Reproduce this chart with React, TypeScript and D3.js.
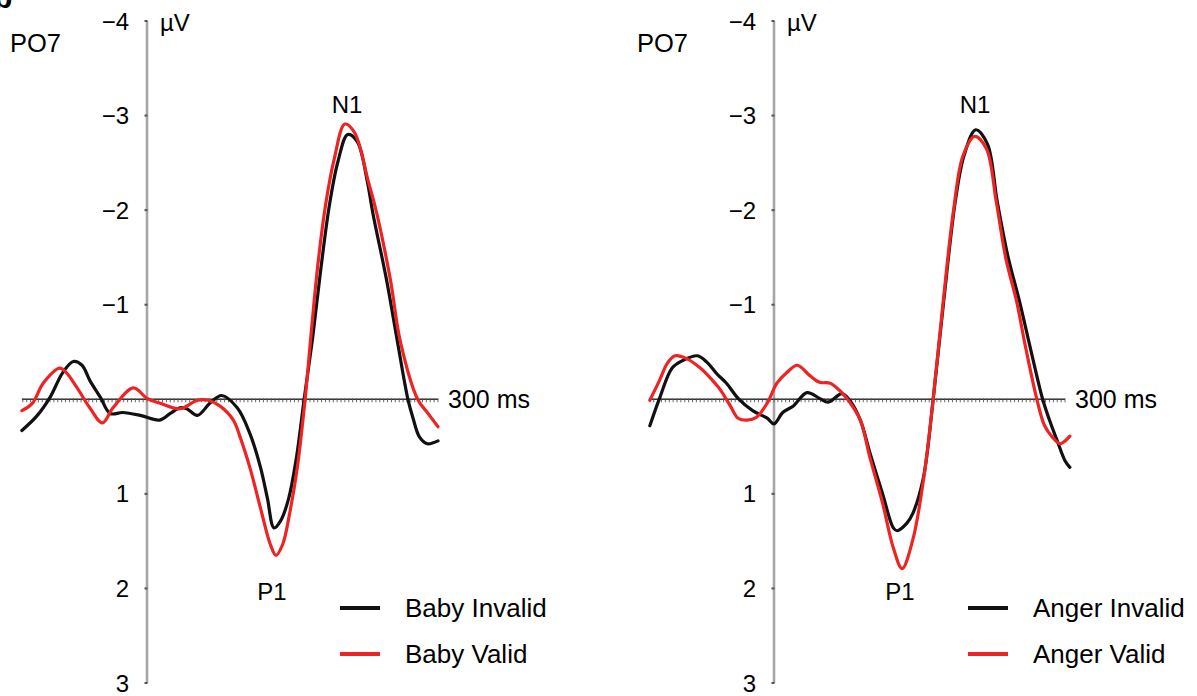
import React from "react";
import * as d3 from "d3";

// ---------- data (time in ms, amplitude in µV) ----------
const yTicks = [-4, -3, -2, -1, 1, 2, 3];
const babyInvalidT = [-129, -113, -100, -87, -76, -67, -59, -48, -38, -25, -7, 13, 24, 34, 41, 52, 65, 77, 93, 106, 117, 124, 131, 138, 146, 154, 162, 171, 179, 188, 197, 207, 217, 227, 233, 247, 258, 269, 274, 281, 289, 300];
const babyInvalidV = [0.33, 0.17, -0.02, -0.28, -0.4, -0.36, -0.2, -0.02, 0.15, 0.14, 0.17, 0.22, 0.15, 0.09, 0.1, 0.17, 0.04, -0.04, 0.09, 0.36, 0.72, 1.04, 1.36, 1.28, 1.05, 0.62, 0, -0.67, -1.36, -2.05, -2.52, -2.8, -2.72, -2.31, -1.96, -1.26, -0.62, 0, 0.19, 0.4, 0.47, 0.44];
const babyValidT = [-129, -118, -107, -90, -83, -72, -59, -46, -35, -14, 0, 13, 34, 52, 63, 75, 89, 96, 106, 117, 127, 133, 140, 147, 155, 163, 169, 176, 184, 193, 204, 214, 228, 237, 251, 261, 279, 289, 300];
const babyValidV = [0.12, 0.04, -0.17, -0.33, -0.28, -0.12, 0.09, 0.25, 0.09, -0.12, -0.01, 0.04, 0.1, 0.01, 0.01, 0.07, 0.22, 0.4, 0.72, 1.15, 1.53, 1.65, 1.53, 1.21, 0.72, 0, -0.67, -1.41, -2.05, -2.54, -2.91, -2.82, -2.31, -1.96, -1.26, -0.62, 0, 0.14, 0.29];
const angerInvalidT = [-128, -118, -105, -94, -79, -69, -59, -49, -37, -22, -7, 0, 9, 20, 34, 47, 56, 70, 78, 89, 99, 112, 123, 127, 137, 143, 154, 164, 175, 187, 196, 208, 220, 230, 241, 253, 265, 277, 284, 292, 300, 305];
const angerInvalidV = [0.28, -0.01, -0.33, -0.41, -0.46, -0.39, -0.27, -0.17, -0.01, 0.12, 0.2, 0.26, 0.14, 0.07, -0.07, -0.01, 0.03, -0.06, 0.01, 0.22, 0.57, 1.0, 1.36, 1.39, 1.31, 1.21, 0.83, 0.01, -1.04, -2.1, -2.58, -2.85, -2.7, -2.1, -1.52, -1.04, -0.51, 0, 0.22, 0.44, 0.65, 0.72];
const angerValidT = [-128, -118, -110, -102, -90, -76, -66, -56, -45, -37, -28, -18, -7, 3, 13, 24, 37, 47, 58, 68, 78, 89, 99, 112, 123, 132, 143, 154, 164, 174, 185, 195, 207, 219, 229, 239, 250, 259, 271, 279, 287, 295, 305];
const angerValidV = [0.01, -0.2, -0.38, -0.46, -0.43, -0.33, -0.23, -0.11, 0.07, 0.2, 0.22, 0.19, 0.04, -0.17, -0.28, -0.36, -0.25, -0.18, -0.17, -0.09, 0.03, 0.22, 0.62, 1.1, 1.57, 1.79, 1.49, 0.86, 0.01, -0.99, -1.99, -2.58, -2.78, -2.65, -2.1, -1.49, -1.04, -0.57, 0, 0.28, 0.4, 0.47, 0.39];

const panels = [
  {
    axisX: 147,
    series: [
      { name: "Baby Invalid", t: babyInvalidT, v: babyInvalidV, color: "#111111" },
      { name: "Baby Valid", t: babyValidT, v: babyValidV, color: "#ee2424" },
    ],
    n1: 347, p1: 272, legendX: 340,
  },
  {
    axisX: 774,
    series: [
      { name: "Anger Invalid", t: angerInvalidT, v: angerInvalidV, color: "#111111" },
      { name: "Anger Valid", t: angerValidT, v: angerValidV, color: "#ee2424" },
    ],
    n1: 975, p1: 900, legendX: 968,
  },
];

const FONT = "'Liberation Sans', Arial, Helvetica, sans-serif";

function Panel({ p }: { p: any }) {
  const x = d3.scaleLinear().domain([0, 300]).range([p.axisX, p.axisX + 291]);
  const y = d3.scaleLinear().domain([-4, 3]).range([21, 683]);
  const zeroTicks = d3.range(-128, 301, 4);
  return (
    <g fontFamily={FONT} fill="#000">
      {/* y axis */}
      <line x1={p.axisX} x2={p.axisX} y1={y(-4)} y2={y(3)} stroke="#a6a6a6" strokeWidth={2.6} />
      {yTicks.map((t) => (
        <g key={t}>
          <line x1={p.axisX - 2.5} x2={p.axisX + 0.5} y1={y(t)} y2={y(t)} stroke="#555" strokeWidth={2} />
          <text x={p.axisX - 18} y={y(t)} dy="0.36em" textAnchor="end" fontSize={24}>
            {t < 0 ? "\u2212" + Math.abs(t) : String(t)}
          </text>
        </g>
      ))}
      <text x={p.axisX + 13} y={y(-4) + 10} fontSize={24}>µV</text>
      <text x={p.axisX - 137} y={52} fontSize={25.5}>PO7</text>
      {/* zero line */}
      <line x1={x(-129)} x2={x(300)} y1={y(0)} y2={y(0)} stroke="#333" strokeWidth={1.4} />
      {zeroTicks.map((t) => (
        <line key={t} x1={x(t)} x2={x(t)} y1={y(0) - 1} y2={y(0) + 3} stroke="#555" strokeWidth={0.9} />
      ))}
      <text x={x(300) + 10} y={y(0)} dy="0.36em" fontSize={25}>300 ms</text>
      {/* curves */}
      {p.series.map((s: any) => {
        const pts: [number, number][] = s.t.map((t: number, i: number) => [x(t), y(s.v[i])]);
        const path = d3.line().curve(d3.curveCatmullRom.alpha(0.5))(pts) || "";
        return <path key={s.name} d={path} fill="none" stroke={s.color} strokeWidth={3.2} strokeLinejoin="round" strokeLinecap="round" />;
      })}
      <text x={p.n1} y={113} textAnchor="middle" fontSize={24}>N1</text>
      <text x={p.p1} y={600} textAnchor="middle" fontSize={24}>P1</text>
      {/* legend */}
      {p.series.map((s: any, i: number) => (
        <g key={s.name}>
          <line x1={p.legendX} x2={p.legendX + 40} y1={608 + i * 46} y2={608 + i * 46} stroke={s.color} strokeWidth={3.8} />
          <text x={p.legendX + 65} y={608 + i * 46} dy="0.36em" fontSize={26}>{s.name}</text>
        </g>
      ))}
    </g>
  );
}

export default function App() {
  return (
    <svg
      width={1197}
      height={696}
      style={{ position: "absolute", left: 0, top: 0, background: "#fff" }}
    >
      <rect width={1197} height={696} fill="#fff" />
      <text x={-6} y={8} fontFamily={FONT} fontWeight="bold" fontSize={30}>b</text>
      {panels.map((p, i) => (
        <Panel key={i} p={p} />
      ))}
    </svg>
  );
}
